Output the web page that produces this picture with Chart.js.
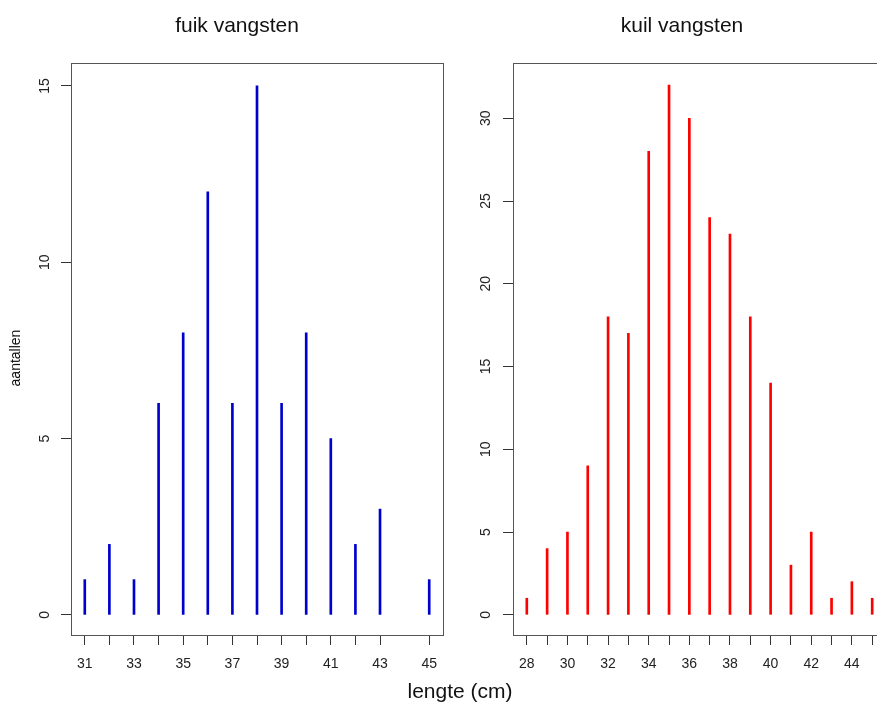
<!DOCTYPE html>
<html>
<head>
<meta charset="utf-8">
<script src="https://cdn.jsdelivr.net/npm/chart.js@4"></script>
<style>
  html, body { margin: 0; padding: 0; background: #fff; width: 877px; height: 704px; overflow: hidden; }
  body { position: relative; font-family: "Liberation Sans", Arial, sans-serif; color: #111; }
  canvas { position: absolute; top: 0; }
  .txt { position: absolute; text-align: center; white-space: nowrap; }
</style>
</head>
<body>
<canvas id="fuik" width="460" height="704" style="left:0px"></canvas>
<canvas id="kuil" width="460" height="704" style="left:440px"></canvas>
<div class="txt" style="left:87px; top:14px; width:300px; font-size:21px; line-height:21px;">fuik vangsten</div>
<div class="txt" style="left:532px; top:14px; width:300px; font-size:21px; line-height:21px;">kuil vangsten</div>
<div class="txt" style="left:310px; top:680px; width:300px; font-size:21px; line-height:21px;">lengte (cm)</div>
<div class="txt" style="left:-35px; top:351px; width:100px; font-size:14px; line-height:14px; transform:rotate(-90deg);">aantallen</div>
<script>
// fuik vangsten
const fuikLengte = [31, 32, 33, 34, 35, 36, 37, 38, 39, 40, 41, 42, 43, 45];
const fuikAantal = [1, 2, 1, 6, 8, 12, 6, 15, 6, 8, 5, 2, 3, 1];
const fuikYTicks = [0, 5, 10, 15];

// kuil vangsten
const kuilLengte = [28, 29, 30, 31, 32, 33, 34, 35, 36, 37, 38, 39, 40, 41, 42, 43, 44, 45];
const kuilAantal = [1, 4, 5, 9, 18, 17, 28, 32, 30, 24, 23, 18, 14, 3, 5, 1, 2, 1];
const kuilYTicks = [0, 5, 10, 15, 20, 25, 30];

const font = "'Liberation Sans', Arial, sans-serif";

// box rond het plotgebied, zoals in R
const boxPlugin = {
    id: 'box',
    afterDraw(chart) {
        const a = chart.chartArea;
        const ctx = chart.ctx;
        ctx.save();
        ctx.strokeStyle = '#555';
        ctx.lineWidth = 1;
        ctx.strokeRect(Math.round(a.left) + 0.5, Math.round(a.top) + 0.5, Math.round(a.right - a.left), Math.round(a.bottom - a.top));
        ctx.restore();
    }
};

function maakPlot(id, lengte, aantal, yTicks, kleur, opt) {
    const ctx = document.getElementById(id).getContext("2d");
    return new Chart(ctx, {
        type: 'bar',
        data: {
            datasets: [{
                data: lengte.map((x, i) => ({ x: x, y: aantal[i] })),
                backgroundColor: kleur,
                barThickness: 2,
                borderWidth: 0
            }]
        },
        plugins: [boxPlugin],
        options: {
            responsive: false,
            animation: false,
            layout: { padding: { top: 63, right: opt.padRight, bottom: 0, left: 0 } },
            plugins: { legend: { display: false }, tooltip: { enabled: false } },
            scales: {
                x: {
                    type: 'linear',
                    min: opt.xMin,
                    max: opt.xMax,
                    offset: false,
                    border: { display: false },
                    grid: { offset: false, drawOnChartArea: false, drawTicks: true, tickLength: 10, color: '#333' },
                    afterBuildTicks: s => { s.ticks = lengte.map(v => ({ value: v })); },
                    ticks: {
                        autoSkip: false, maxRotation: 0, minRotation: 0, padding: 11,
                        color: '#222', font: { size: 14, family: font },
                        callback: v => (v % 2 === opt.labelRest ? v : '')
                    },
                    afterFit: s => { s.height = 69; }
                },
                y: {
                    min: opt.yMin,
                    max: opt.yMax,
                    border: { display: false },
                    grid: { drawOnChartArea: false, drawTicks: true, tickLength: 10, color: '#333' },
                    afterBuildTicks: s => { s.ticks = yTicks.map(v => ({ value: v })); },
                    ticks: {
                        minRotation: 90, maxRotation: 90, crossAlign: 'center', padding: opt.yPad,
                        color: '#222', font: { size: 14, family: font }
                    },
                    afterFit: s => { s.width = opt.yWidth; }
                }
            }
        }
    });
}

maakPlot("fuik", fuikLengte, fuikAantal, fuikYTicks, '#0000cd',
    { xMin: 30.44, xMax: 45.56, yMin: -0.57, yMax: 15.65, yWidth: 71, yPad: 8.5, padRight: 17, labelRest: 1 });
maakPlot("kuil", kuilLengte, kuilAantal, kuilYTicks, '#ff0000',
    { xMin: 27.32, xMax: 45.68, yMin: -1.22, yMax: 33.34, yWidth: 73, yPad: 9, padRight: 14, labelRest: 0 });
</script>
</body>
</html>
